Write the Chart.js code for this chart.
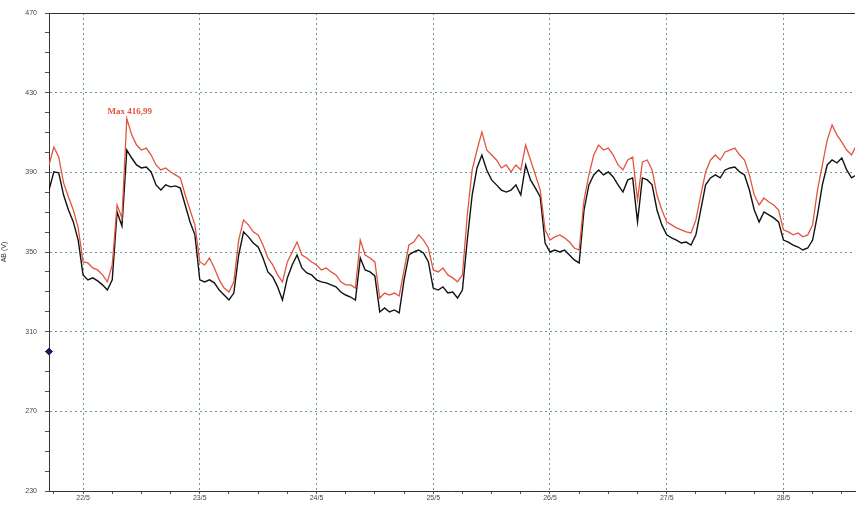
<!DOCTYPE html>
<html>
<head>
<meta charset="utf-8">
<script src="https://cdn.jsdelivr.net/npm/chart.js@4/dist/chart.umd.min.js"></script>
<style>
html,body{margin:0;padding:0;background:#fff;}
#wrap{position:relative;width:860px;height:505px;}
</style>
</head>
<body>
<div id="wrap"><canvas id="c" width="860" height="505"></canvas></div>
<script>
// ---- data (hourly samples starting 21/5 17:00) ----
const startDay = 21 + 17 / 24;
const hourStep = 1 / 24;
const endDay = 28.613;
const redValues = [
393.7,402.7,397.7,384.7,377.6,371.1,362.1,345.0,344.5,342.0,
341.0,338.5,335.0,343.5,373.6,367.1,416.99,408.8,403.7,401.2,
402.2,398.7,393.7,391.2,392.2,390.2,388.7,387.2,378.6,371.1,
363.6,345.0,343.5,347.0,342.0,336.0,331.9,329.9,335.0,356.0,
366.1,363.6,360.1,358.6,353.5,347.0,343.5,338.5,335.0,345.0,
350.0,355.0,348.5,347.0,345.0,343.5,341.0,342.0,340.0,338.5,
335.0,333.5,333.5,331.9,356.0,348.5,347.0,345.0,326.9,329.4,
328.4,329.4,327.9,341.0,353.5,355.0,358.6,356.0,352.0,341.0,
340.0,342.0,338.5,337.0,335.0,338.5,368.6,391.2,401.2,410.3,
401.2,398.7,396.2,392.2,393.7,390.2,393.7,391.2,403.7,396.2,
388.7,381.1,361.1,356.0,357.6,358.6,357.1,355.0,352.0,351.0,
376.1,388.7,398.7,403.7,401.2,402.2,398.7,393.7,391.2,396.2,
397.7,376.1,395.2,396.2,391.2,378.6,371.1,365.1,363.6,362.1,
361.1,360.1,359.6,366.1,378.6,390.2,396.2,398.7,396.2,400.2,
401.2,402.2,398.7,396.2,388.7,378.6,373.6,377.1,375.1,373.6,
371.1,361.1,360.1,358.6,359.6,357.6,358.6,363.6,381.1,393.7,
406.2,413.8,408.8,405.2,401.2,398.7,403.7
];
const blackValues = [
381.1,390.2,389.7,378.6,371.1,365.1,356.0,338.5,336.0,337.0,
335.5,333.5,330.9,336.0,370.1,363.1,401.2,397.2,393.7,392.2,
392.7,390.2,383.7,381.1,383.7,382.7,383.2,382.1,373.6,365.1,
358.6,336.0,335.0,336.0,334.5,330.9,328.4,325.9,329.4,348.5,
360.1,357.6,354.5,352.5,347.0,340.0,337.5,332.5,325.9,337.0,
343.5,348.5,342.0,339.5,338.5,336.0,335.0,334.5,333.5,332.5,
329.9,328.4,327.4,325.9,347.0,341.0,340.0,338.0,319.9,321.9,
319.9,320.9,319.4,336.0,348.5,350.0,351.0,349.5,345.0,331.9,
330.9,332.5,329.4,329.9,326.9,330.9,356.0,378.6,392.2,398.7,
391.2,386.2,383.7,381.1,380.1,381.1,383.7,378.6,393.7,386.2,
382.1,377.6,354.5,350.0,351.0,350.0,351.0,348.5,346.0,344.5,
371.1,383.7,388.7,391.2,388.7,390.2,387.7,383.7,380.1,386.2,
387.2,365.1,387.2,386.2,383.7,371.1,363.6,358.6,357.1,356.0,
354.5,355.0,353.5,358.6,371.1,383.7,387.2,388.7,387.2,391.2,
392.2,392.7,390.2,388.7,381.1,371.1,365.1,370.1,368.6,367.1,
365.1,356.0,355.0,353.5,352.5,351.0,352.0,356.0,368.6,383.7,
393.7,396.2,394.7,397.2,391.2,387.2,388.7
];
const markerValue = 300;
const dayTicks = [22, 23, 24, 25, 26, 27, 28];
const dayLabels = ['22/5', '23/5', '24/5', '25/5', '26/5', '27/5', '28/5'];
const yMin = 230, yMax = 470, yMajor = 40;
const yTitle = 'AB (V)';

// ---- build ----
const toPoints = arr => arr.map((v, i) => ({ x: startDay + i * hourStep, y: v }));
const redPts = toPoints(redValues);
const blackPts = toPoints(blackValues);
let maxIdx = 0;
redValues.forEach((v, i) => { if (v > redValues[maxIdx]) maxIdx = i; });

const GRID = '#6f9999';
const isMajorY = v => Math.abs((v - yMin) % yMajor) < 1e-6;
const isMajorX = v => Math.abs(v - Math.round(v)) < 1e-6;

const maxLabel = {
  id: 'maxLabel',
  afterDatasetsDraw(chart) {
    const ctx = chart.ctx;
    const xs = chart.scales.x, ys = chart.scales.y;
    const p = redPts[maxIdx];
    const px = xs.getPixelForValue(p.x), py = ys.getPixelForValue(p.y);
    ctx.save();
    ctx.fillStyle = '#e0553f';
    ctx.font = 'bold 9px "Liberation Serif", serif';
    ctx.textAlign = 'center';
    ctx.textBaseline = 'alphabetic';
    ctx.fillText('Max ' + redValues[maxIdx].toFixed(2).replace('.', ','), px + 3, py - 5);
    ctx.restore();
  },
  beforeDatasetsDraw(chart) {
    const { ctx, chartArea } = chart;
    ctx.save();
    ctx.strokeStyle = '#333';
    ctx.lineWidth = 1;
    ctx.beginPath();
    ctx.moveTo(chartArea.left, chartArea.top + 0.5);
    ctx.lineTo(chartArea.right, chartArea.top + 0.5);
    ctx.stroke();
    ctx.restore();
  }
};

new Chart(document.getElementById('c'), {
  type: 'line',
  data: {
    datasets: [
      { data: redPts, borderColor: '#e0553f', borderWidth: 1.3, pointRadius: 0, tension: 0 },
      { data: blackPts, borderColor: '#111111', borderWidth: 1.4, pointRadius: 0, tension: 0 },
      { data: [{ x: startDay, y: markerValue }], showLine: false, pointStyle: 'rectRot', pointRadius: 3.5,
        backgroundColor: '#1c1c5c', borderColor: '#1c1c5c', clip: false }
    ]
  },
  options: {
    responsive: false,
    animation: false,
    layout: { padding: { left: 0, right: 0, top: 13, bottom: 0 } },
    plugins: { legend: { display: false }, tooltip: { enabled: false } },
    scales: {
      x: {
        type: 'linear', min: startDay, max: endDay,
        afterFit: s => { s.height = 14; },
        afterBuildTicks: s => {
          const t = [];
          for (let d = 21.75; d < endDay; d += 0.25) t.push({ value: d });
          s.ticks = t;
        },
        ticks: {
          autoSkip: false, maxRotation: 0, padding: 0,
          font: { size: 7, family: 'Liberation Sans, Arial, sans-serif' }, color: '#444',
          callback: v => { const k = dayTicks.indexOf(Math.round(v)); return (isMajorX(v) && k >= 0) ? dayLabels[k] : ''; }
        },
        grid: {
          color: c => isMajorX(c.tick.value) ? GRID : 'rgba(0,0,0,0)',
          tickColor: '#555', tickLength: 3, lineWidth: 1
        },
        border: { color: '#333', width: 1, dash: [2, 3] }
      },
      y: {
        min: yMin, max: yMax,
        afterFit: s => { s.width = 49; },
        ticks: {
          stepSize: 10, autoSkip: false, padding: 8,
          font: { size: 7, family: 'Liberation Sans, Arial, sans-serif' }, color: '#444',
          callback: v => isMajorY(v) ? String(v) : ''
        },
        grid: {
          color: c => (isMajorY(c.tick.value) && c.tick.value !== yMax && c.tick.value !== yMin) ? GRID : 'rgba(0,0,0,0)',
          tickColor: '#555', tickLength: 4, lineWidth: 1
        },
        border: { color: '#333', width: 1, dash: [2, 3] },
        title: { display: true, text: yTitle, font: { size: 7, family: 'Liberation Sans, Arial, sans-serif' }, color: '#333', padding: 0 }
      }
    }
  },
  plugins: [maxLabel]
});
</script>
</body>
</html>
